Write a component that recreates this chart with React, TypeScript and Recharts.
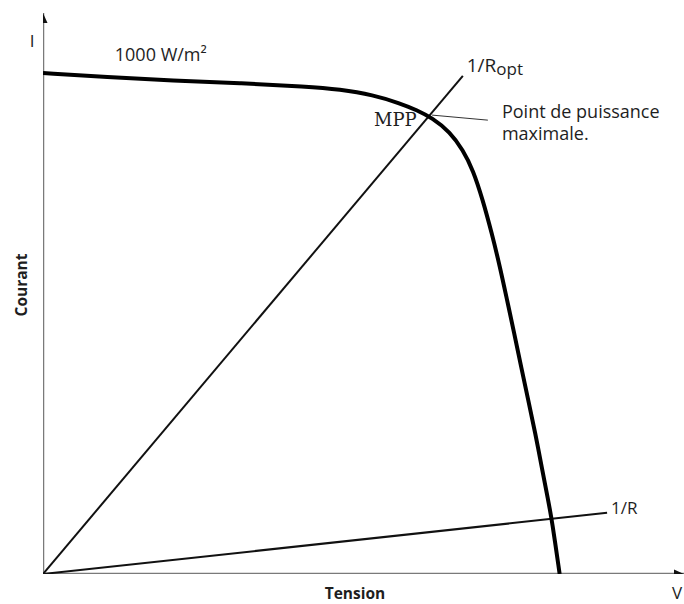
import React from 'react';
import { ComposedChart, Line, XAxis, YAxis, ReferenceDot, Label } from 'recharts';

// I-V characteristic (normalised units: V 0..100, I 0..100)
const curveV = [0, 10.0, 20.3, 30.7, 41.2, 46.3, 51.5, 55.7, 58.3, 60.7, 63.5, 65.5, 67.1, 68.6, 70.0, 71.3, 72.4, 73.5, 74.6, 75.7, 76.8, 77.8, 78.8, 79.4, 80.6];
const curveI = [89.3, 88.6, 87.9, 87.5, 86.9, 86.4, 85.4, 83.9, 82.7, 81.3, 78.8, 75.6, 72.0, 66.7, 60.8, 54.7, 48.8, 43.0, 36.9, 31.0, 25.1, 19.1, 13.2, 9.6, 0];

const roptV = [0, 65.5];
const roptI = [0, 88.8];
const rV = [0, 88];
const rI = [0, 10.9];
const leaderV = [60.7, 69.4];
const leaderI = [81.8, 80.9];
const xAxisV = [0, 100];
const xAxisI = [0, 0];
const yAxisV = [0, 0];
const yAxisI = [0, 100];

const zip = (xs: number[], ys: number[]) => xs.map((x, i) => ({ x, y: ys[i] }));

const curve = zip(curveV, curveI);
const ropt = zip(roptV, roptI);
const rLine = zip(rV, rI);
const leader = zip(leaderV, leaderI);
const xAx = zip(xAxisV, xAxisI);
const yAx = zip(yAxisV, yAxisI);

const SANS = '"Open Sans", "Noto Sans", sans-serif';
const TXT = '#1e1e1e';

const arrowX = (p: any) => {
  if (p.index !== 1) return <g key={p.key} />;
  const { cx, cy } = p;
  return <path key={p.key} d={`M${cx},${cy} L${cx - 10},${cy - 4.5} L${cx - 10},${cy + 4.5} Z`} fill="#111" />;
};
const arrowY = (p: any) => {
  if (p.index !== 1) return <g key={p.key} />;
  const { cx, cy } = p;
  return <path key={p.key} d={`M${cx},${cy} L${cx - 4.5},${cy + 10} L${cx + 4.5},${cy + 10} Z`} fill="#111" />;
};

const txt = (content: React.ReactNode, size: number, anchor: string, extra: any = {}) => (p: any) => (
  <text x={p.cx} y={p.cy} fontFamily={SANS} fontSize={size} fill={TXT} textAnchor={anchor} {...extra}>
    {content}
  </text>
);

export default function App() {
  return (
    <div style={{ position: 'absolute', left: 0, top: 0, width: 684, height: 604, background: '#fff' }}>
      <ComposedChart width={684} height={604} margin={{ top: 13, right: 0, bottom: 0, left: 0 }}>
        <XAxis type="number" dataKey="x" domain={[0, 100]} allowDataOverflow height={30} axisLine={false} tick={false} tickLine={false}>
          <Label
            content={(props: any) => {
              const vb = props.viewBox;
              return (
                <g>
                  <text x={vb.x + 312} y={vb.y + 25} fontFamily={SANS} fontWeight={700} fontSize={15.5} fill={TXT} textAnchor="middle">Tension</text>
                  <text x={vb.x + 634} y={vb.y + 25} fontFamily={SANS} fontSize={17} fill={TXT} textAnchor="middle">V</text>
                </g>
              );
            }}
          />
        </XAxis>
        <YAxis type="number" dataKey="y" domain={[0, 100]} allowDataOverflow width={43} axisLine={false} tick={false} tickLine={false}>
          <Label
            content={(props: any) => {
              const vb = props.viewBox;
              return (
                <g>
                  <text x={32} y={vb.y + 34} fontFamily={SANS} fontSize={17} fill={TXT} textAnchor="middle">I</text>
                  <text x={27} y={285} transform="rotate(-90, 27, 285)" fontFamily={SANS} fontWeight={700} fontSize={15.5} fill={TXT} textAnchor="middle">Courant</text>
                </g>
              );
            }}
          />
        </YAxis>

        <Line data={xAx} dataKey="y" type="linear" stroke="#7a7a7a" strokeWidth={2.5} dot={arrowX} activeDot={false} isAnimationActive={false} />
        <Line data={yAx} dataKey="y" type="linear" stroke="#7a7a7a" strokeWidth={2.5} dot={arrowY} activeDot={false} isAnimationActive={false} />

        <Line data={rLine} dataKey="y" type="linear" stroke="#111" strokeWidth={2} dot={false} activeDot={false} isAnimationActive={false} />
        <Line data={ropt} dataKey="y" type="linear" stroke="#111" strokeWidth={2} dot={false} activeDot={false} isAnimationActive={false} />
        <Line data={leader} dataKey="y" type="linear" stroke="#333" strokeWidth={1} dot={false} activeDot={false} isAnimationActive={false} />
        <Line data={curve} dataKey="y" type="basis" stroke="#000" strokeWidth={4} dot={false} activeDot={false} isAnimationActive={false} />

        <ReferenceDot x={11.2} y={91.4} ifOverflow="visible" shape={txt('1000 W/m²', 18, 'start')} />
        <ReferenceDot
          x={58.3}
          y={79.9}
          ifOverflow="visible"
          shape={(p: any) => (
            <text x={p.cx} y={p.cy} fontFamily='"DejaVu Serif", serif' fontSize={18} fill={TXT} textAnchor="end">MPP</text>
          )}
        />
        <ReferenceDot
          x={66.1}
          y={89.5}
          ifOverflow="visible"
          shape={(p: any) => (
            <text x={p.cx} y={p.cy} fontFamily={SANS} fontSize={19} fill={TXT}>
              1/R<tspan fontSize={17} dy={3}>opt</tspan>
            </text>
          )}
        />
        <ReferenceDot
          x={71.6}
          y={81.3}
          ifOverflow="visible"
          shape={(p: any) => (
            <text x={p.cx} y={p.cy} fontFamily={SANS} fontSize={18} fill={TXT}>
              <tspan x={p.cx}>Point de puissance</tspan>
              <tspan x={p.cx} dy={22}>maximale.</tspan>
            </text>
          )}
        />
        <ReferenceDot x={88.6} y={10.7} ifOverflow="visible" shape={txt('1/R', 17, 'start')} />
      </ComposedChart>
    </div>
  );
}
